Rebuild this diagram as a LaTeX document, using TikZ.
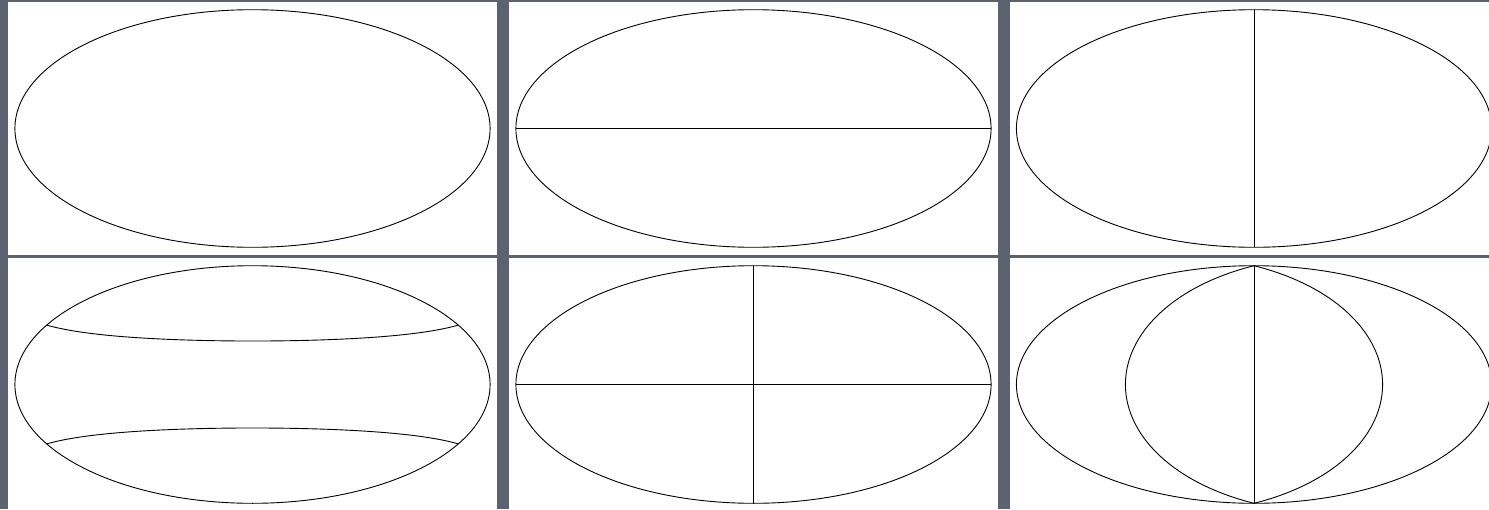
\documentclass[tikz,border=0pt]{standalone}
\begin{document}
\begin{tikzpicture}[x=1pt,y=-1pt,
  panel/.style={fill=white,draw=none},
  curve/.style={draw=black,line width=0.9pt},
  line join=round]
\definecolor{slate}{RGB}{93,98,113}
\useasboundingbox (0,0) rectangle (1489,509);
\fill[slate] (0,0) rectangle (1489,509);
% panels
\foreach \px in {8,509,1010}{
  \foreach \py in {2,258}{
    \fill[panel] (\px,\py) rectangle ++(489,253);
  }
}
\def\s{84}
% outer Hammer boundary ellipses
\foreach \cx in {252.5,753.5,1254}{
  \foreach \cy in {128.5,384.5}{
    \draw[curve] (\cx,\cy) ellipse [x radius=2*1.41421*\s, y radius=1.41421*\s];
  }
}
% panel 2: equator
\draw[curve] (753.5-2*1.41421*\s,128.5) -- (753.5+2*1.41421*\s,128.5);
% panel 3: central meridian
\draw[curve] (1254,128.5-1.41421*\s) -- (1254,128.5+1.41421*\s);
% panel 4: parallels at +-30 deg
\foreach \ph in {30,-30}{
  \draw[curve] plot[variable=\l, domain=-180:180, samples=121, smooth]
    ({252.5 + \s*2*1.41421*cos(\ph)*sin(\l/2)/sqrt(1+cos(\ph)*cos(\l/2))},
     {384.5 - \s*1.41421*sin(\ph)/sqrt(1+cos(\ph)*cos(\l/2))});
}
% panel 5: equator and central meridian
\draw[curve] (753.5-2*1.41421*\s,384.5) -- (753.5+2*1.41421*\s,384.5);
\draw[curve] (753.5,384.5-1.41421*\s) -- (753.5,384.5+1.41421*\s);
% panel 6: central meridian and meridians at +-90 deg
\draw[curve] (1254,384.5-1.41421*\s) -- (1254,384.5+1.41421*\s);
\foreach \la in {90,-90}{
  \draw[curve] plot[variable=\t, domain=-90:90, samples=121, smooth]
    ({1254 + \s*2*1.41421*cos(\t)*sin(\la/2)/sqrt(1+cos(\t)*cos(\la/2))},
     {384.5 - \s*1.41421*sin(\t)/sqrt(1+cos(\t)*cos(\la/2))});
}
\end{tikzpicture}
\end{document}
